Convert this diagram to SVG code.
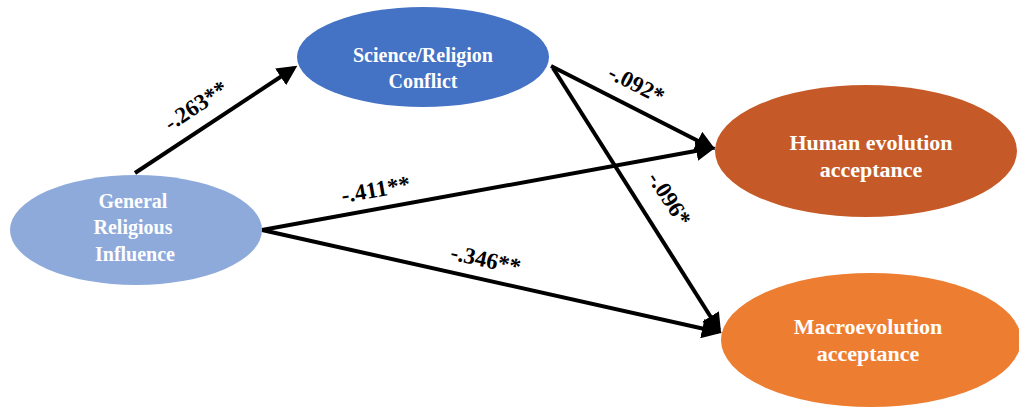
<svg xmlns="http://www.w3.org/2000/svg" width="1019" height="409" viewBox="0 0 1019 409">
<style>
.t{font-family:"Liberation Serif","Times New Roman",serif;font-weight:bold;font-size:20px;fill:#fff;text-anchor:middle}
.b{font-size:22px}
.l{font-family:"Liberation Serif","Times New Roman",serif;font-weight:bold;font-size:23px;fill:#000;text-anchor:middle}
.c{stroke:#000;stroke-width:4;fill:none;marker-end:url(#ah)}
</style>
<defs>
<marker id="ah" markerWidth="5" markerHeight="5" refX="4" refY="2.5" orient="auto" markerUnits="strokeWidth">
<path d="M0,0 L5,2.5 L0,5 Z" fill="#000"/>
</marker>
</defs>
<rect width="1019" height="409" fill="#fff"/>
<g id="connectors">
<line class="c" x1="135" y1="173" x2="294" y2="68"/>
<line class="c" x1="551" y1="66" x2="712" y2="148"/>
<line class="c" x1="553" y1="68" x2="719" y2="330"/>
<line class="c" x1="262" y1="230" x2="712" y2="148"/>
<line class="c" x1="262" y1="230" x2="718" y2="332"/>
<text class="l" transform="translate(200,112) rotate(-33.5)">-.263**</text>
<text class="l" transform="translate(633,91) rotate(27)">-.092*</text>
<text class="l" transform="translate(663,203) rotate(57)">-.096*</text>
<text class="l" transform="translate(377,197) rotate(-10)">-.411**</text>
<text class="l" transform="translate(484,267) rotate(12.6)">-.346**</text>
</g>
<g id="gri">
<ellipse cx="136" cy="230" rx="126" ry="55" fill="#8eaadb"/>
<text class="t" x="133" y="208">General</text>
<text class="t" x="133" y="234">Religious</text>
<text class="t" x="135" y="261">Influence</text>
</g>
<g id="src">
<ellipse cx="423" cy="57" rx="126" ry="50" fill="#4472c4"/>
<text class="t" x="423" y="62">Science/Religion</text>
<text class="t" x="423" y="88">Conflict</text>
</g>
<g id="human">
<ellipse cx="866" cy="151" rx="151" ry="66" fill="#c55a28"/>
<text class="t b" x="871" y="150">Human evolution</text>
<text class="t b" x="871" y="177">acceptance</text>
</g>
<g id="macro">
<ellipse cx="871" cy="340" rx="150" ry="67" fill="#ed7d31"/>
<text class="t b" x="868" y="334">Macroevolution</text>
<text class="t b" x="868" y="361">acceptance</text>
</g>
</svg>
